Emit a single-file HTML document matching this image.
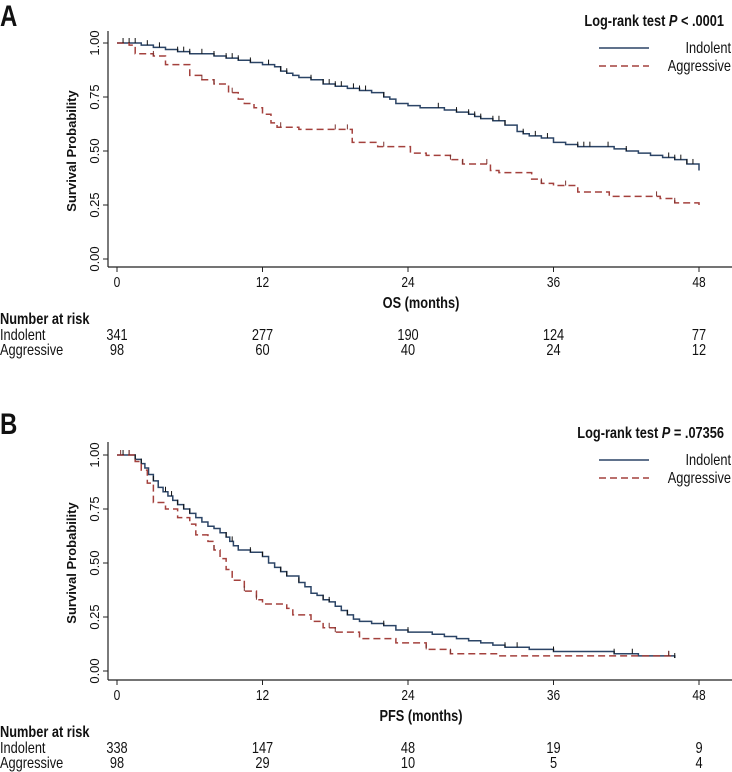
<!DOCTYPE html>
<html><head><meta charset="utf-8">
<style>
html,body{margin:0;padding:0;background:#fff;}
svg{display:block;}
text{font-family:"Liberation Sans",sans-serif;fill:#111;}
</style></head>
<body>
<svg id="chart" width="732" height="772" viewBox="0 0 732 772" xmlns="http://www.w3.org/2000/svg"></svg>
<script>
// Panel A (OS)
const xTicks = [0, 12, 24, 36, 48];
const yTicks = [0, 0.25, 0.5, 0.75, 1.0];
const yTickLabels = ["0.00", "0.25", "0.50", "0.75", "1.00"];
const aIndT = [0,2,3,4,5,6,8,9,10,11,12,13,13.5,14,14.5,15,16,17,18,19,20,21,22,22.5,23,24,25,27,28,29,29.5,30,31,32,33,33.5,34,35,36,37,38,41,42,43,44,45,46,47,48];
const aIndS = [1,0.99,0.98,0.97,0.96,0.95,0.94,0.93,0.92,0.91,0.90,0.89,0.87,0.86,0.85,0.84,0.83,0.81,0.80,0.79,0.78,0.77,0.75,0.74,0.72,0.71,0.70,0.69,0.68,0.67,0.66,0.65,0.64,0.62,0.59,0.58,0.57,0.56,0.54,0.53,0.52,0.51,0.50,0.49,0.48,0.47,0.46,0.44,0.41];
const aAggT = [0,1,1.5,3,4,6,7,8,9.2,10,10.5,11.3,12,12.7,13.2,15,19.4,21.5,24.2,25.5,27.5,28.5,30.8,31.5,34.2,35,36,38,40.6,44.8,46,48];
const aAggS = [1,0.99,0.95,0.94,0.90,0.85,0.83,0.81,0.77,0.74,0.72,0.70,0.67,0.63,0.61,0.60,0.54,0.52,0.49,0.48,0.46,0.44,0.41,0.40,0.37,0.35,0.34,0.31,0.29,0.28,0.26,0.25];
const aIndCens = [0.5,1,1.5,2.5,3.5,5,5.5,6,7,8,9,9.5,10,11,12.5,13.5,14,16,17,17.5,18,18.5,19.5,20,20.5,22,26.5,28,29,29.5,30,31,31.5,32,33.5,34.5,35.5,38,38.5,39,40.5,42,45.5,46,46.5,47,47.5];
const aAggCens = [3,7,8,9.5,13.5,18,19,22,27.5,28.5,30.5,35,37,44.5,46];
const aRiskInd = ["341","277","190","124","77"];
const aRiskAgg = ["98","60","40","24","12"];
// Panel B (PFS)
const bIndT = [0,1.5,2,2.3,2.6,3,3.4,3.8,4.2,4.6,5,5.5,6,6.5,7,7.5,8,8.5,9,9.3,9.6,10,11,12,12.5,13,13.5,14,15,15.5,16,16.5,17,17.5,18,18.5,19,19.5,20,21,22,23,24,26,27,28,29,30,31,32,34,36,41,43,46];
const bIndS = [1,0.98,0.96,0.94,0.91,0.88,0.85,0.83,0.81,0.79,0.77,0.75,0.73,0.71,0.69,0.67,0.66,0.64,0.62,0.60,0.58,0.56,0.55,0.53,0.50,0.48,0.46,0.44,0.41,0.39,0.36,0.35,0.33,0.32,0.30,0.28,0.26,0.24,0.23,0.22,0.21,0.19,0.18,0.17,0.16,0.15,0.14,0.13,0.12,0.11,0.10,0.09,0.08,0.07,0.06];
const bAggT = [0,1.5,2,2.5,3,4,5,6,6.5,7.5,8,8.5,9,9.5,10.5,11.5,12,14,14.5,16,17,18,20,23,25.5,27.5,31.5,46];
const bAggS = [1,0.97,0.93,0.87,0.78,0.75,0.71,0.68,0.63,0.60,0.56,0.52,0.47,0.42,0.37,0.33,0.31,0.29,0.26,0.23,0.20,0.18,0.15,0.13,0.10,0.08,0.07,0.07];
const bIndCens = [0.5,1,1.5,2,3,4,4.5,5,5.5,6,9,9.5,11,12,13.5,14,15,17,17.5,19,22,24,32,33,36,41,42.5,45.5,46];
const bAggCens = [0.3,1,8,10.5,11.5,17.5,18,25.5,27.5,45.5];
const bRiskInd = ["338","147","48","19","9"];
const bRiskAgg = ["98","29","10","5","4"];

const NS = "http://www.w3.org/2000/svg";
const svg = document.getElementById("chart");
const SX = 0.8;
function mk(tag, attrs, parent) {
  const e = document.createElementNS(NS, tag);
  for (const k in attrs) e.setAttribute(k, attrs[k]);
  (parent || svg).appendChild(e);
  return e;
}
// condensed text helper
function ctext(parent, x, y, str, size, anchor, bold, html) {
  const t = mk("text", {x: 0, y: 0, "font-size": size, "text-anchor": anchor || "start",
    transform: `translate(${x},${y}) scale(${SX},1)`}, parent);
  if (bold) t.setAttribute("font-weight", "bold");
  if (html) t.innerHTML = str; else t.textContent = str;
  return t;
}
const IND = "#2b4466", AGG = "#a4413d";

function panel(p) {
  const g = mk("g", {});
  
  
  const x0 = 117, x48 = 699;
  const xs = t => x0 + (t / 48) * (x48 - x0);
  const ys = s => p.y0 + s * (p.y1 - p.y0);
  const L = ctext(g, 0, p.letterY, p.letter, 30, "start", true);
  
  
  const ya = mk("line", {x1: 108, y1: p.spineTop, x2: 108, y2: p.axisY, stroke: "#222", "stroke-width": 1.2}, g);
  
  
  const xa = mk("line", {x1: 108, y1: p.axisY, x2: 732, y2: p.axisY, stroke: "#222", "stroke-width": 1.2}, g);
  
  
  yTicks.forEach((v, i) => {
    const y = ys(v);
    mk("line", {x1: 103, y1: y, x2: 108, y2: y, stroke: "#222"}, g);
    const t = mk("text", {x: 0, y: 0, "font-size": 13, "text-anchor": "middle", transform: `translate(99,${y}) rotate(-90)`, fill: "#222"}, g);
    t.textContent = yTickLabels[i];
    
    
  });
  xTicks.forEach(v => {
    const x = xs(v);
    mk("line", {x1: x, y1: p.axisY, x2: x, y2: p.axisY + 5, stroke: "#222"}, g);
    const t = ctext(g, x, p.axisY + 20, String(v), 15, "middle");
    
    
  });
  const yt = mk("text", {x: 0, y: 0, "font-size": 13, "font-weight": "bold", "text-anchor": "middle", transform: `translate(76,${(p.y0 + p.y1) / 2}) rotate(-90)`}, g);
  yt.textContent = "Survival Probability";
  
  
  const xt = ctext(g, 421, p.axisY + 41, p.xlabel, 16, "middle", true);
  
  
  function step(T, S) {
    let d = `M${xs(T[0])},${ys(S[0])}`;
    for (let i = 1; i < T.length; i++) d += `H${xs(T[i])}V${ys(S[i])}`;
    return d;
  }
  function survAt(T, S, t) { let s = S[0]; for (let i = 0; i < T.length; i++) if (T[i] <= t) s = S[i]; return s; }
  const c1 = mk("path", {d: step(p.indT, p.indS), fill: "none", stroke: IND, "stroke-width": 1.5}, g);
  
  
  const c2 = mk("path", {d: step(p.aggT, p.aggS), fill: "none", stroke: AGG, "stroke-width": 1.5, "stroke-dasharray": "7,4"}, g);
  
  
  p.indC.forEach(t => {
    const y = ys(survAt(p.indT, p.indS, t));
    const m = mk("line", {x1: xs(t), y1: y, x2: xs(t), y2: y - 5, stroke: "#111", "stroke-width": 1}, g);
    
    
  });
  p.aggC.forEach(t => {
    const y = ys(survAt(p.aggT, p.aggS, t));
    const m = mk("line", {x1: xs(t), y1: y, x2: xs(t), y2: y - 5, stroke: "#7a3330", "stroke-width": 1}, g);
    
    
  });
  const lg = mk("g", {}, g);
  
  
  const lt = ctext(lg, 724, p.legY, p.logrank, 16, "end", true, true);
  
  
  mk("line", {x1: 599, y1: p.legY + 22, x2: 649, y2: p.legY + 22, stroke: IND, "stroke-width": 1.5}, lg);
  const e1 = ctext(lg, 731, p.legY + 27, "Indolent", 16, "end");
  
  
  mk("line", {x1: 599, y1: p.legY + 40, x2: 649, y2: p.legY + 40, stroke: AGG, "stroke-width": 1.5, "stroke-dasharray": "7,4"}, lg);
  const e2 = ctext(lg, 731, p.legY + 45, "Aggressive", 16, "end");
  
  
  const rt = mk("g", {}, g);
  
  
  ctext(rt, 0, p.riskY, "Number at risk", 16, "start", true);
  ctext(rt, 0, p.riskY + 16, "Indolent", 16, "start");
  ctext(rt, 0, p.riskY + 31, "Aggressive", 16, "start");
  xTicks.forEach((v, i) => {
    const a = ctext(rt, xs(v), p.riskY + 16, p.riskInd[i], 16, "middle");
    
    
    const b = ctext(rt, xs(v), p.riskY + 31, p.riskAgg[i], 16, "middle");
    
    
  });
}

panel({name: "panel-a-os", letter: "A", letterY: 26, y1: 43, y0: 259, axisY: 267, spineTop: 31,
  xlabel: "OS (months)", legY: 26, logrank: 'Log-rank test <tspan font-style="italic">P</tspan> &lt; .0001',
  indT: aIndT, indS: aIndS, aggT: aAggT, aggS: aAggS, indC: aIndCens, aggC: aAggCens,
  riskY: 324, riskInd: aRiskInd, riskAgg: aRiskAgg});
panel({name: "panel-b-pfs", letter: "B", letterY: 434, y1: 455, y0: 671, axisY: 680, spineTop: 442,
  xlabel: "PFS (months)", legY: 438, logrank: 'Log-rank test <tspan font-style="italic">P</tspan> = .07356',
  indT: bIndT, indS: bIndS, aggT: bAggT, aggS: bAggS, indC: bIndCens, aggC: bAggCens,
  riskY: 737, riskInd: bRiskInd, riskAgg: bRiskAgg});
</script>
</body></html>
